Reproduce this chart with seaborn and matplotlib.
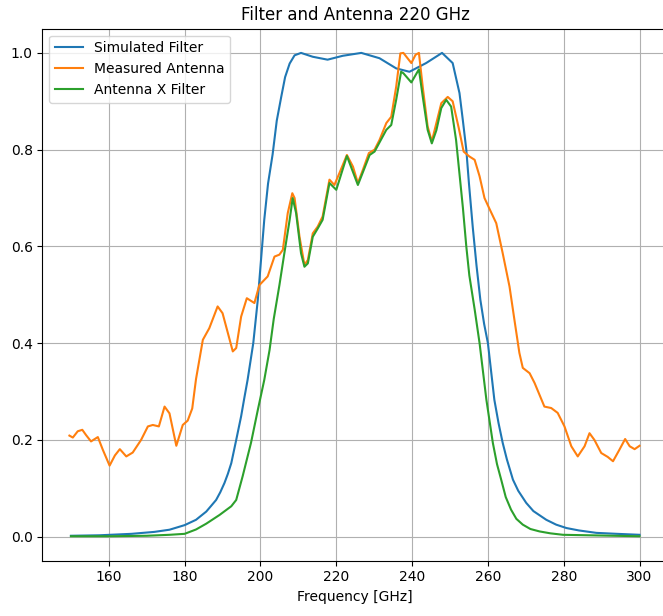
import numpy as np
import matplotlib
matplotlib.use("Agg")
import matplotlib.pyplot as plt
import seaborn as sns

# --- Data ---
filter_freq = [150, 157.5, 166, 172, 176, 180, 183, 185.7, 186.9, 188.3, 189.4, 190.5,
               191.4, 192.3, 193.6, 194.9, 195.7, 196.6, 198.1, 199.3, 201, 202,
               203.2, 204.3, 205.5, 206.5, 207.7, 209, 210.7, 213.8, 217.7, 221.7,
               226.6, 231.4, 235.8, 239.3, 243.7, 247.9, 250.7, 252.5, 253.4, 254.3,
               255, 256, 257, 258, 259, 260, 261.7, 262.8, 263.9, 265, 266.6, 268,
               270.1, 272, 275.4, 278, 280.7, 284, 288.6, 294, 300]
filter_vals = [0.002, 0.003, 0.006, 0.010, 0.0145, 0.024, 0.035, 0.052, 0.063, 0.076,
               0.092, 0.111, 0.13, 0.152, 0.200, 0.249, 0.285, 0.324, 0.40, 0.49,
               0.655, 0.73, 0.79, 0.86, 0.91, 0.95, 0.978, 0.995, 1.0, 0.992, 0.986,
               0.994, 1.0, 0.989, 0.968, 0.961, 0.979, 1.0, 0.979, 0.917, 0.86, 0.80,
               0.73, 0.64, 0.56, 0.49, 0.44, 0.40, 0.283, 0.235, 0.194, 0.16, 0.118,
               0.095, 0.070, 0.053, 0.035, 0.025, 0.018, 0.013, 0.008, 0.006, 0.004]

antenna_freq = [149.6, 150.5, 151.8, 153.0, 154.0, 155.3, 157.1, 158.4, 160.2, 161.6,
                162.9, 164.6, 166.3, 168.5, 170.3, 171.6, 173.2, 174.7, 176.0, 177.8,
                179.5, 180.8, 182.0, 183.0, 184.8, 186.5, 188.7, 190.0, 192.7, 193.6,
                194.9, 196.4, 198.4, 199.7, 201.9, 203.7, 205.0, 205.9, 207.2, 208.4,
                209.0, 210.3, 211.6, 212.5, 213.8, 215.1, 216.4, 218.2, 219.5, 220.8,
                222.8, 224.4, 225.7, 227.0, 228.6, 230.1, 231.4, 233.2, 234.5, 235.8,
                236.9, 237.7, 239.8, 240.9, 241.8, 242.8, 244.1, 245.2, 246.4, 247.7,
                249.4, 250.7, 252.3, 253.6, 255.1, 256.5, 257.8, 259.1, 260.4, 262.2,
                263.9, 265.7, 267.0, 268.3, 269.2, 271.0, 272.3, 274.9, 276.7, 278.4,
                280.2, 282.0, 283.7, 285.5, 286.8, 288.1, 289.9, 291.6, 293.0, 294.7,
                296.2, 297.4, 298.7, 300.0]
antenna_vals = [0.209, 0.205, 0.218, 0.221, 0.210, 0.197, 0.206, 0.180, 0.147, 0.168,
                0.181, 0.166, 0.174, 0.200, 0.228, 0.231, 0.228, 0.269, 0.255, 0.188,
                0.231, 0.240, 0.265, 0.326, 0.407, 0.431, 0.476, 0.462, 0.383, 0.390,
                0.455, 0.493, 0.483, 0.520, 0.538, 0.579, 0.583, 0.593, 0.669, 0.710,
                0.700, 0.620, 0.562, 0.572, 0.627, 0.641, 0.662, 0.738, 0.727, 0.751,
                0.789, 0.765, 0.731, 0.758, 0.793, 0.800, 0.820, 0.855, 0.868, 0.930,
                0.999, 1.0, 0.979, 0.996, 1.0, 0.930, 0.848, 0.817, 0.855, 0.896,
                0.909, 0.900, 0.845, 0.796, 0.786, 0.779, 0.745, 0.700, 0.678, 0.648,
                0.586, 0.517, 0.448, 0.380, 0.349, 0.338, 0.318, 0.269, 0.266, 0.256,
                0.228, 0.187, 0.166, 0.187, 0.214, 0.200, 0.173, 0.165, 0.156, 0.180,
                0.202, 0.187, 0.181, 0.188]

product_freq = [150, 160, 170, 176, 180, 183, 185.7, 189.2, 192.3, 193.6, 195.3, 197.5,
                199.3, 201.0, 202.4, 203.5, 205.0, 206.3, 207.7, 208.5, 209.4, 210.7,
                211.6, 212.5, 213.8, 215.1, 216.4, 218.2, 220.0, 222.8, 225.7, 228.8,
                230.1, 233.2, 234.5, 235.8, 237.1, 237.7, 239.8, 241.8, 242.8, 244.1,
                245.2, 246.4, 247.7, 249.0, 250.3, 251.6, 253.4, 254.3, 255.1, 256.5,
                257.8, 259.6, 261.3, 262.4, 263.5, 264.7, 266.1, 267.5, 269.2, 271.2,
                273.6, 276.5, 279.8, 300]
product_vals = [0.001, 0.001, 0.002, 0.004, 0.006, 0.015, 0.027, 0.045, 0.063, 0.076,
                0.125, 0.194, 0.262, 0.324, 0.386, 0.45, 0.52, 0.586, 0.655, 0.700,
                0.669, 0.586, 0.558, 0.565, 0.620, 0.637, 0.655, 0.731, 0.717, 0.787,
                0.727, 0.789, 0.796, 0.841, 0.851, 0.903, 0.961, 0.958, 0.939, 0.966,
                0.910, 0.841, 0.813, 0.840, 0.886, 0.903, 0.889, 0.820, 0.680, 0.600,
                0.540, 0.470, 0.400, 0.283, 0.194, 0.150, 0.118, 0.082, 0.056, 0.037,
                0.025, 0.016, 0.011, 0.007, 0.004, 0.001]

# --- Plot ---
fig = plt.figure(figsize=(6.63, 6.16), dpi=100)
ax = fig.add_axes([0.0641, 0.0898, 0.9434, 0.8636])

sns.lineplot(x=filter_freq, y=filter_vals, ax=ax, color="C0", label="Simulated Filter")
sns.lineplot(x=antenna_freq, y=antenna_vals, ax=ax, color="C1", label="Measured Antenna")
sns.lineplot(x=product_freq, y=product_vals, ax=ax, color="C2", label="Antenna X Filter")

ax.set_xlim(142.5, 307.5)
ax.set_ylim(-0.0495, 1.05)
ax.set_xticks(np.arange(160, 301, 20))
ax.grid(True)
ax.legend(loc="upper left")
ax.set_xlabel("Frequency [GHz]")
ax.set_title("Filter and Antenna 220 GHz")

fig.savefig("out.png", dpi=100)
